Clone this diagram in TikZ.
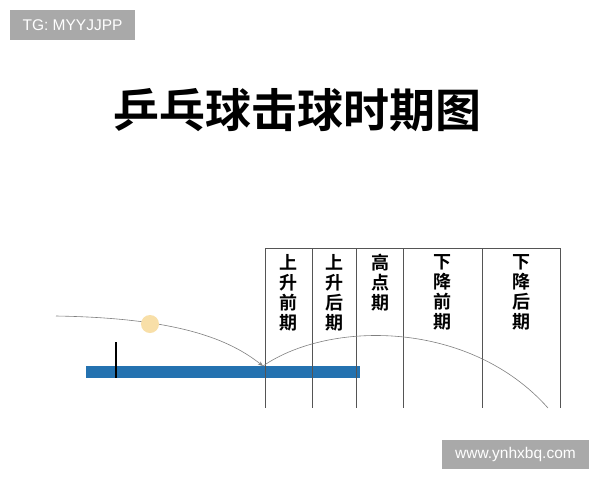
\documentclass[tikz,border=0pt]{standalone}
\usepackage{fontspec}
\setmainfont{Liberation Sans}
\newfontfamily\cjk{Noto Sans CJK SC}[BoldFont={* Bold}]
\usetikzlibrary{arrows.meta}
\definecolor{wmgray}{HTML}{A9A9A9}
\definecolor{tableblue}{HTML}{2472B0}
\definecolor{ballc}{HTML}{F8DFA8}
\definecolor{gridc}{HTML}{555555}
\tikzset{
  wm/.style={fill=wmgray, text=white, inner sep=0pt, font=\fontsize{15.5}{16}\selectfont},
  colline/.style={draw=gridc, line width=0.7pt},
  collabel/.style={anchor=north, align=center, inner sep=0pt, font=\cjk\bfseries\fontsize{18}{20}\selectfont},
  traj/.style={draw=gray, line width=0.6pt},
}
\begin{document}
\begin{tikzpicture}[x=1pt,y=-1pt]
\useasboundingbox (0,0) rectangle (600,480);
\fill[white] (0,0) rectangle (600,480);
% watermarks
\node[wm, minimum width=125pt, minimum height=30pt] (tg) at (72.5,25) {TG: MYYJJPP};
\node[wm, minimum width=147pt, minimum height=29pt] (url) at (515.5,454.5) {www.ynhxbq.com};
% title
\node[font=\cjk\bfseries\fontsize{46}{50}\selectfont, inner sep=0pt] (title) at (297.5,110) {乒乓球击球时期图};
% table
\fill[tableblue] (86,366) rectangle (360,378);
\node[inner sep=0pt, minimum width=0pt] (tabletop) at (223,366) {};
% net
\draw[line width=2.8pt, black] (116,342) -- (116,378);
% column lines
\coordinate (c0t) at (265,248); \coordinate (c0b) at (265,408);
\coordinate (c1t) at (312,248); \coordinate (c1b) at (312,408);
\coordinate (c2t) at (356,248); \coordinate (c2b) at (356,408);
\coordinate (c3t) at (403,248); \coordinate (c3b) at (403,408);
\coordinate (c4t) at (482,248); \coordinate (c4b) at (482,408);
\coordinate (c5t) at (560,248); \coordinate (c5b) at (560,408);
\draw[colline] (c0t) -- (c5t);
\foreach \i in {0,...,5} { \draw[colline] (c\i t) -- (c\i b); }
% labels
\node[collabel] (l1) at (288.5,254) {上\\升\\前\\期};
\node[collabel] (l2) at (334,254) {上\\升\\后\\期};
\node[collabel] (l3) at (380,254) {高\\点\\期};
\node[collabel] (l4) at (442,254) {下\\降\\前\\期};
\node[collabel] (l5) at (521,254) {下\\降\\后\\期};
% trajectory
\coordinate (start) at (56,316);
\coordinate (bounce) at (263,366);
\coordinate (fin) at (548,408);
\draw[traj, -{Stealth[length=5pt,width=4pt]}] (start) .. controls (180,318) and (230,340) .. (bounce);
\draw[traj] (bounce) .. controls (330,320) and (470,320) .. (fin);
% ball
\node[circle, fill=ballc, minimum size=18pt, inner sep=0pt] (ball) at (150,324) {};
\end{tikzpicture}
\end{document}
